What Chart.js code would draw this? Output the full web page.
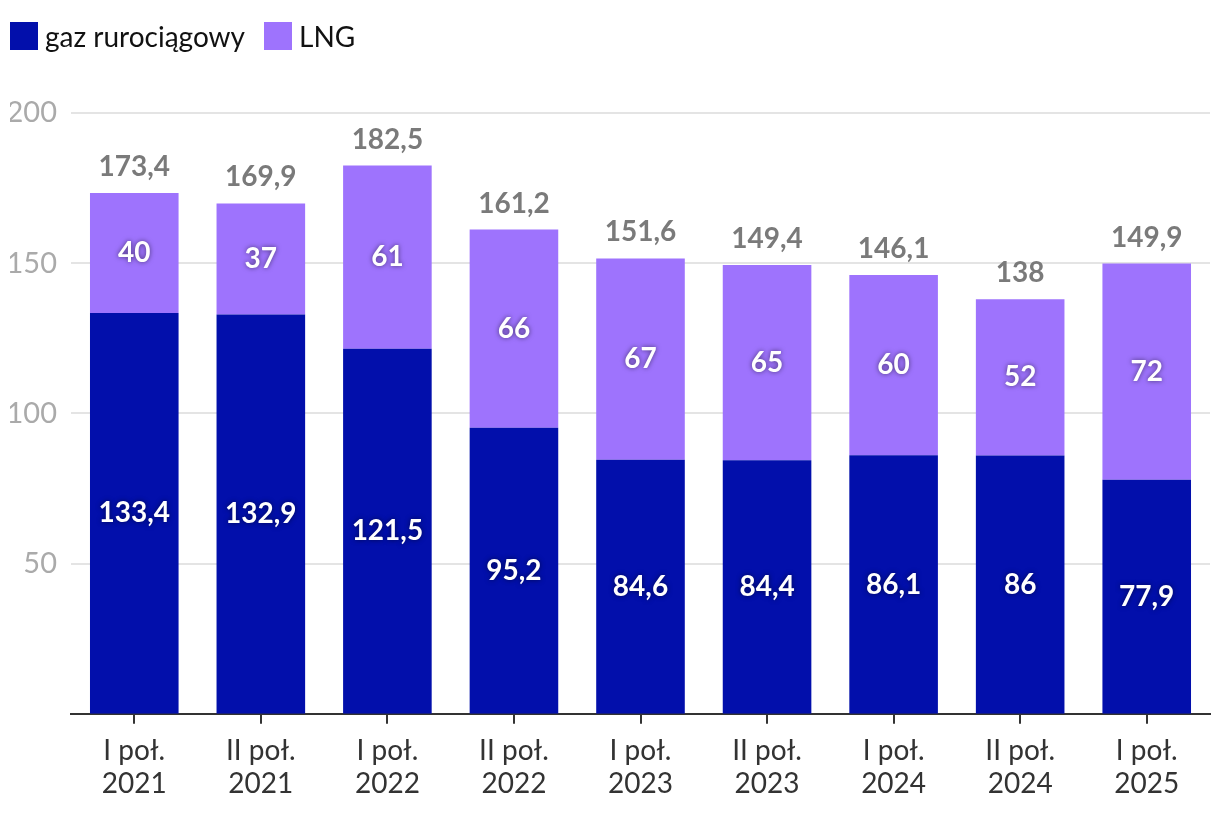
<!DOCTYPE html>
<html>
<head>
<meta charset="utf-8">
<script src="https://cdn.jsdelivr.net/npm/chart.js@4.4.1/dist/chart.umd.min.js"></script>
<style>
  html, body { margin: 0; padding: 0; background: #fff; }
  #wrap { position: relative; width: 1220px; height: 818px; }
  #legend { position: absolute; left: 10px; top: 22px; display: flex; align-items: center;
            font-family: Lato, sans-serif; font-size: 28px; line-height: 28px; color: #111; }
  .item { display: flex; align-items: center; margin-right: 19px; }
  .box { width: 28px; height: 28px; margin-right: 7px; }
</style>
</head>
<body>
<div id="wrap">
  <div id="legend"></div>
  <canvas id="chart" width="1220" height="818"></canvas>
</div>
<script>
const categories = [
  ["I poł.", "2021"], ["II poł.", "2021"], ["I poł.", "2022"], ["II poł.", "2022"],
  ["I poł.", "2023"], ["II poł.", "2023"], ["I poł.", "2024"], ["II poł.", "2024"],
  ["I poł.", "2025"]
];
const pipeline = [133.4, 132.9, 121.5, 95.2, 84.6, 84.4, 86.1, 86, 77.9];
const lng      = [40, 37, 61, 66, 67, 65, 60, 52, 72];
const totals   = [173.4, 169.9, 182.5, 161.2, 151.6, 149.4, 146.1, 138, 149.9];
const yTicks   = [50, 100, 150, 200];

const COLOR_PIPE = "#020fab";
const COLOR_LNG  = "#9e73fd";

Chart.defaults.font.family = "Lato, sans-serif";

function fmt(v) {
  return String(v).replace(".", ",");
}

// legend drawn as plain html
var legendEl = document.getElementById("legend");
[["gaz rurociągowy", COLOR_PIPE], ["LNG", COLOR_LNG]].forEach(function(it) {
  var d = document.createElement("div");
  d.className = "item";
  d.innerHTML = '<div class="box" style="background:' + it[1] + '"></div>' + it[0];
  legendEl.appendChild(d);
});

// value labels inside the bars plus totals on top
const barLabels = {
  id: "barLabels",
  afterDatasetsDraw(chart) {
    var ctx = chart.ctx;
    ctx.save();
    ctx.textAlign = "center";
    ctx.textBaseline = "middle";
    chart.data.datasets.forEach(function(ds, i) {
      var meta = chart.getDatasetMeta(i);
      meta.data.forEach(function(bar, j) {
        ctx.font = "bold 28px Lato, sans-serif";
        ctx.fillStyle = "#fff";
        ctx.shadowColor = "rgba(0,0,0,0.55)";
        ctx.shadowBlur = 5;
        ctx.fillText(fmt(ds.data[j]), bar.x, (bar.y + bar.base) / 2);
      });
    });
    ctx.shadowColor = "transparent";
    ctx.shadowBlur = 0;
    var top = chart.getDatasetMeta(chart.data.datasets.length - 1);
    top.data.forEach(function(bar, j) {
      ctx.font = "bold 28px Lato, sans-serif";
      ctx.fillStyle = "#7a7a7a";
      ctx.fillText(fmt(totals[j]), bar.x, bar.y - 26);
    });
    ctx.restore();
  }
};

new Chart(document.getElementById("chart"), {
  type: "bar",
  data: {
    labels: categories,
    datasets: [
      { label: "gaz rurociągowy", data: pipeline, backgroundColor: COLOR_PIPE },
      { label: "LNG", data: lng, backgroundColor: COLOR_LNG }
    ]
  },
  options: {
    responsive: false,
    animation: false,
    events: [],
    layout: { padding: { top: 113, left: 10, right: 10, bottom: 7 } },
    datasets: { bar: { barPercentage: 0.7, categoryPercentage: 1 } },
    plugins: {
      legend: { display: false },
      tooltip: { enabled: false }
    },
    scales: {
      x: {
        stacked: true,
        grid: { drawOnChartArea: false, offset: false, tickLength: 10, color: "#333", lineWidth: 2 },
        border: { color: "#333", width: 2 },
        ticks: { color: "#333", font: { size: 28, lineHeight: 1.2 }, padding: 10, maxRotation: 0 }
      },
      y: {
        stacked: true,
        min: 0,
        max: 200,
        afterBuildTicks: function(scale) {
          scale.ticks = yTicks.map(function(v) { return { value: v }; });
        },
        afterFit: function(scale) {
          scale.width = 61;
        },
        grid: { color: "#e4e4e4", lineWidth: 2, drawTicks: false },
        border: { display: false },
        ticks: { color: "#aaa", font: { size: 29 }, padding: 14 }
      }
    }
  },
  plugins: [barLabels]
});
</script>
</body>
</html>
